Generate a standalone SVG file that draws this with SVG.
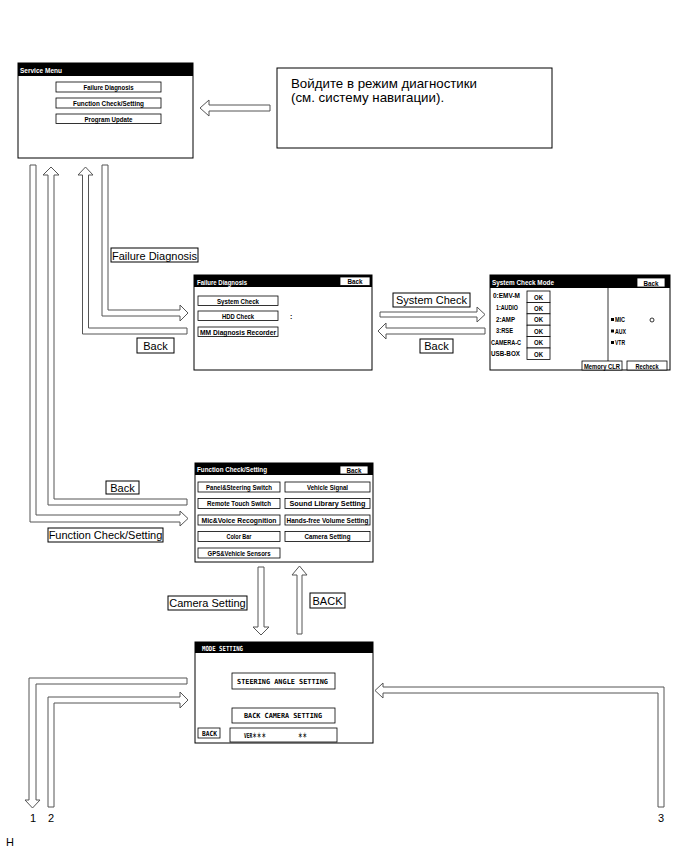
<svg xmlns="http://www.w3.org/2000/svg" width="691" height="854" viewBox="0 0 691 854">
<style>
.bg{fill:#fff}
.scr{fill:#fff;stroke:#000;stroke-width:1}
.hdr{fill:#000}
.btn{fill:#fff;stroke:#000;stroke-width:0.8}
.bt{font-family:"Liberation Sans Narrow","Liberation Sans",Arial,sans-serif;font-weight:bold;font-size:7px;fill:#000;text-anchor:middle}
.btl{font-family:"Liberation Sans Narrow","Liberation Sans",Arial,sans-serif;font-weight:bold;font-size:7px;fill:#000}
.ht{font-family:"Liberation Sans Narrow","Liberation Sans",Arial,sans-serif;font-weight:bold;font-size:7px;fill:#fff}
.mono{font-family:"DejaVu Sans Mono","Liberation Mono","Noto Sans CJK JP",monospace;font-weight:bold;font-size:7px;fill:#000}
.monow{font-family:"DejaVu Sans Mono","Liberation Mono",monospace;font-weight:bold;font-size:7px;fill:#fff}
.arr{fill:#fff;stroke:#555;stroke-width:1;stroke-linejoin:miter}
.lbl{fill:#fff;stroke:#000;stroke-width:1}
.lt{font-family:"Liberation Sans",Arial,sans-serif;font-size:11px;fill:#000;text-anchor:middle}
.ru{font-family:"Liberation Sans",Arial,sans-serif;font-size:13.3px;fill:#000}
</style>
<rect class="bg" x="0" y="0" width="691" height="854"/>

<g id="connectors">
  <path class="arr" d="M270,105 L209,105 L209,100 L200,108 L209,116 L209,111 L270,111 Z"/>
  <path class="arr" d="M30,165 L36,165 L36,515 L180,515 L180,511 L188,518.5 L180,526 L180,522 L30,522 Z"/>
  <path class="arr" d="M187,499 L54,499 L54,175 L59,175 L51,167 L43,175 L48,175 L48,505 L187,505 Z"/>
  <path class="arr" d="M187,328 L88.5,328 L88.5,175 L93,175 L85.5,167 L78,175 L82.5,175 L82.5,334 L187,334 Z"/>
  <path class="arr" d="M102,165 L108,165 L108,310 L180,310 L180,305 L188,313 L180,321 L180,316 L102,316 Z"/>
  <path class="arr" d="M380,312 L477,312 L477,307 L485,314.5 L477,322 L477,317 L380,317 Z"/>
  <path class="arr" d="M485,328 L386,328 L386,323 L378,331 L386,339 L386,334 L485,334 Z"/>
  <path class="arr" d="M258,567 L264,567 L264,627 L269,627 L261,635 L253,627 L258,627 Z"/>
  <path class="arr" d="M297,634 L297,575 L292,575 L299.5,566 L307,575 L302,575 L302,634 Z"/>
  <path class="arr" d="M187,678 L29,678 L29,800 L25,800 L32.5,808 L40,800 L36,800 L36,684 L187,684 Z"/>
  <path class="arr" d="M48,807 L48,697 L180,697 L180,692 L188,700 L180,708 L180,703 L54,703 L54,807 Z"/>
  <path class="arr" d="M664,807 L664,687 L383,687 L383,683 L375,690.5 L383,698 L383,693 L658,693 L658,807 Z"/>

  <rect class="lbl" x="111" y="248" width="87" height="14"/>
  <text class="lt" x="154.5" y="259.5">Failure Diagnosis</text>
  <rect class="lbl" x="137" y="338" width="37" height="15"/>
  <text class="lt" x="155.5" y="349.5">Back</text>
  <rect class="lbl" x="393" y="293" width="77" height="14"/>
  <text class="lt" x="431.5" y="304">System Check</text>
  <rect class="lbl" x="420" y="339" width="33" height="14"/>
  <text class="lt" x="436.5" y="350">Back</text>
  <rect class="lbl" x="106" y="481" width="33" height="13"/>
  <text class="lt" x="122.5" y="491.5">Back</text>
  <rect class="lbl" x="48" y="528" width="115" height="14"/>
  <text class="lt" x="105.5" y="539">Function Check/Setting</text>
  <rect class="lbl" x="168" y="596" width="79" height="14"/>
  <text class="lt" x="207.5" y="607">Camera Setting</text>
  <rect class="lbl" x="310" y="593" width="35" height="15"/>
  <text class="lt" x="327.5" y="604.5">BACK</text>

  <text class="lt" x="33" y="822">1</text>
  <text class="lt" x="51" y="822">2</text>
  <text class="lt" x="661" y="822">3</text>
  <text class="lt" x="10" y="846">H</text>
</g>

<g id="service-menu">
  <rect class="scr" x="18" y="63" width="175" height="95"/>
  <rect class="hdr" x="18" y="63" width="175" height="13"/>
  <text class="ht" x="20" y="73" textLength="42" lengthAdjust="spacingAndGlyphs">Service Menu</text>
  <rect class="btn" x="56" y="82" width="105" height="10"/>
  <text class="bt" x="108.5" y="90" textLength="50" lengthAdjust="spacingAndGlyphs">Failure Diagnosis</text>
  <rect class="btn" x="56" y="98" width="105" height="10"/>
  <text class="bt" x="108.5" y="106" textLength="71" lengthAdjust="spacingAndGlyphs">Function Check/Setting</text>
  <rect class="btn" x="56" y="114" width="105" height="9.5"/>
  <text class="bt" x="108.5" y="122" textLength="48" lengthAdjust="spacingAndGlyphs">Program Update</text>
</g>

<g id="note">
  <rect class="scr" x="277" y="68" width="275" height="80"/>
  <text class="ru" x="291" y="88">Войдите в режим диагностики</text>
  <text class="ru" x="291" y="102">(см. систему навигации).</text>
</g>

<g id="failure-diagnosis">
  <rect class="scr" x="194" y="275" width="178" height="95"/>
  <rect class="hdr" x="194" y="275" width="178" height="12"/>
  <text class="ht" x="197" y="284.5" textLength="50" lengthAdjust="spacingAndGlyphs">Failure Diagnosis</text>
  <rect class="btn" x="340" y="277" width="30" height="8.5"/>
  <text class="bt" x="355" y="284" textLength="15" lengthAdjust="spacingAndGlyphs">Back</text>
  <rect class="btn" x="198" y="296" width="80" height="9.5"/>
  <text class="bt" x="238" y="303.5" textLength="42" lengthAdjust="spacingAndGlyphs">System Check</text>
  <rect class="btn" x="198" y="311" width="80" height="9.5"/>
  <text class="bt" x="238" y="318.5" textLength="32" lengthAdjust="spacingAndGlyphs">HDD Check</text>
  <rect class="btn" x="198" y="327" width="80" height="9.5"/>
  <text class="bt" x="238" y="334.5" textLength="76" lengthAdjust="spacingAndGlyphs">MM Diagnosis Recorder</text>
  <text class="btl" x="290" y="318.5">:</text>
</g>

<g id="system-check-mode">
  <rect class="scr" x="490" y="275" width="180" height="95"/>
  <rect class="hdr" x="490" y="275" width="180" height="13"/>
  <text class="ht" x="492" y="285" textLength="62" lengthAdjust="spacingAndGlyphs">System Check Mode</text>
  <rect class="btn" x="637" y="278" width="28" height="9"/>
  <text class="bt" x="651" y="285.5" textLength="15" lengthAdjust="spacingAndGlyphs">Back</text>
  <line x1="608" y1="288" x2="608" y2="361" stroke="#000" stroke-width="0.8"/>
  <rect class="btn" x="527" y="291" width="23" height="11.4"/>
  <rect class="btn" x="527" y="302.4" width="23" height="11.4"/>
  <rect class="btn" x="527" y="313.8" width="23" height="11.4"/>
  <rect class="btn" x="527" y="325.2" width="23" height="11.4"/>
  <rect class="btn" x="527" y="336.6" width="23" height="11.4"/>
  <rect class="btn" x="527" y="348" width="23" height="11.4"/>
  <text class="bt" x="538.5" y="299.5" textLength="9" lengthAdjust="spacingAndGlyphs">OK</text>
  <text class="bt" x="538.5" y="310.9" textLength="9" lengthAdjust="spacingAndGlyphs">OK</text>
  <text class="bt" x="538.5" y="322.3" textLength="9" lengthAdjust="spacingAndGlyphs">OK</text>
  <text class="bt" x="538.5" y="333.7" textLength="9" lengthAdjust="spacingAndGlyphs">OK</text>
  <text class="bt" x="538.5" y="345.1" textLength="9" lengthAdjust="spacingAndGlyphs">OK</text>
  <text class="bt" x="538.5" y="356.5" textLength="9" lengthAdjust="spacingAndGlyphs">OK</text>
  <text class="btl" x="493" y="297.5" textLength="27" lengthAdjust="spacingAndGlyphs">0:EMV-M</text>
  <text class="btl" x="496" y="310" textLength="22" lengthAdjust="spacingAndGlyphs">1:AUDIO</text>
  <text class="btl" x="496" y="321.5" textLength="19" lengthAdjust="spacingAndGlyphs">2:AMP</text>
  <text class="btl" x="496" y="333" textLength="17" lengthAdjust="spacingAndGlyphs">3:RSE</text>
  <text class="btl" x="491" y="344.5" textLength="30" lengthAdjust="spacingAndGlyphs">CAMERA-C</text>
  <text class="btl" x="491" y="355.5" textLength="29" lengthAdjust="spacingAndGlyphs">USB-BOX</text>
  <rect x="611" y="318" width="3" height="3" fill="#000"/>
  <text class="btl" x="615" y="322" textLength="10" lengthAdjust="spacingAndGlyphs">MIC</text>
  <circle cx="652" cy="320" r="2" fill="none" stroke="#000" stroke-width="0.8"/>
  <rect x="611" y="329.5" width="3" height="3" fill="#000"/>
  <text class="btl" x="615" y="333.5" textLength="11" lengthAdjust="spacingAndGlyphs">AUX</text>
  <rect x="611" y="341" width="3" height="3" fill="#000"/>
  <text class="btl" x="615" y="345" textLength="10" lengthAdjust="spacingAndGlyphs">VTR</text>
  <rect class="btn" x="582" y="361" width="40" height="9"/>
  <text class="bt" x="602" y="368.5" textLength="36" lengthAdjust="spacingAndGlyphs">Memory CLR</text>
  <rect class="btn" x="627" y="361" width="40" height="9"/>
  <text class="bt" x="647" y="368.5" textLength="23" lengthAdjust="spacingAndGlyphs">Recheck</text>
</g>

<g id="function-check-setting">
  <rect class="scr" x="195" y="463" width="178" height="99"/>
  <rect class="hdr" x="195" y="463" width="178" height="12"/>
  <text class="ht" x="197" y="472" textLength="70" lengthAdjust="spacingAndGlyphs">Function Check/Setting</text>
  <rect class="btn" x="340" y="466" width="28" height="8"/>
  <text class="bt" x="354" y="472.5" textLength="15" lengthAdjust="spacingAndGlyphs">Back</text>
  <rect class="btn" x="198" y="482" width="82" height="10"/>
  <text class="bt" x="239" y="489.7" textLength="66" lengthAdjust="spacingAndGlyphs">Panel&amp;Steering Switch</text>
  <rect class="btn" x="285" y="482" width="85" height="10"/>
  <text class="bt" x="327.5" y="489.7" textLength="41" lengthAdjust="spacingAndGlyphs">Vehicle Signal</text>
  <rect class="btn" x="198" y="498.5" width="82" height="10"/>
  <text class="bt" x="239" y="506.2" textLength="64" lengthAdjust="spacingAndGlyphs">Remote Touch Switch</text>
  <rect class="btn" x="285" y="498.5" width="85" height="10"/>
  <text class="bt" x="327.5" y="506.2" textLength="76" lengthAdjust="spacingAndGlyphs">Sound Library Setting</text>
  <rect class="btn" x="198" y="515" width="82" height="10"/>
  <text class="bt" x="239" y="522.7" textLength="75" lengthAdjust="spacingAndGlyphs">Mic&amp;Voice Recognition</text>
  <rect class="btn" x="285" y="515" width="85" height="10"/>
  <text class="bt" x="327.5" y="522.7" textLength="82" lengthAdjust="spacingAndGlyphs">Hands-free Volume Setting</text>
  <rect class="btn" x="198" y="531.5" width="82" height="10"/>
  <text class="bt" x="239" y="539.2" textLength="25" lengthAdjust="spacingAndGlyphs">Color Bar</text>
  <rect class="btn" x="285" y="531.5" width="85" height="10"/>
  <text class="bt" x="327.5" y="539.2" textLength="46" lengthAdjust="spacingAndGlyphs">Camera Setting</text>
  <rect class="btn" x="198" y="548" width="82" height="10"/>
  <text class="bt" x="239" y="555.7" textLength="63" lengthAdjust="spacingAndGlyphs">GPS&amp;Vehicle Sensors</text>
</g>

<g id="mode-setting">
  <rect class="scr" x="195" y="642" width="178" height="101"/>
  <rect class="hdr" x="195" y="642" width="178" height="11"/>
  <text class="monow" x="202" y="650.5" textLength="41" lengthAdjust="spacingAndGlyphs">MODE SETTING</text>
  <rect class="btn" x="232" y="673" width="103" height="16"/>
  <text class="mono" x="237" y="684" textLength="91" lengthAdjust="spacingAndGlyphs">STEERING ANGLE SETTING</text>
  <rect class="btn" x="232" y="708" width="103" height="15"/>
  <text class="mono" x="244" y="718" textLength="78" lengthAdjust="spacingAndGlyphs">BACK CAMERA SETTING</text>
  <rect class="btn" x="198" y="728" width="22" height="10"/>
  <text class="mono" x="202" y="736" textLength="15" lengthAdjust="spacingAndGlyphs">BACK</text>
  <rect class="btn" x="230" y="728" width="107" height="14"/>
  <text class="mono" x="244" y="737.5" textLength="22" lengthAdjust="spacingAndGlyphs">VER＊＊＊</text>
  <text class="mono" x="298" y="737.5" textLength="9" lengthAdjust="spacingAndGlyphs">＊＊</text>
</g>
</svg>
